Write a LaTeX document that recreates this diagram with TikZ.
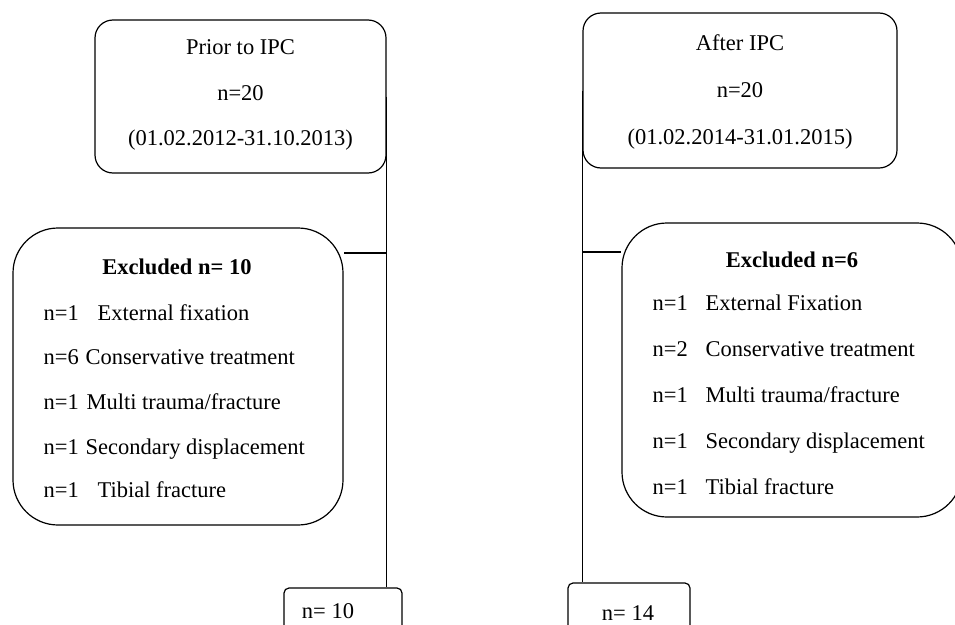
\documentclass[tikz,border=0pt]{standalone}
\usepackage{fontspec}
\setmainfont{Liberation Serif}
\begin{document}
\begin{tikzpicture}[x=1pt,y=-1pt,line width=1.2pt,
  box/.style={draw,rectangle,inner sep=0pt},
  lbl/.style={inner sep=0pt,anchor=base,font=\fontsize{22.5}{26}\selectfont},
  item/.style={lbl,anchor=base west},
  title/.style={lbl,font=\fontsize{22.5}{26}\selectfont\bfseries}]
\clip (0,0) rectangle (955,624);

% period boxes
\node[box,rounded corners=18pt,minimum width=291pt,minimum height=153pt] (tl) at (240.5,96.5) {};
\node[box,rounded corners=18pt,minimum width=314pt,minimum height=155pt] (tr) at (740,90.5) {};

% exclusion boxes
\node[box,rounded corners=45pt,minimum width=330pt,minimum height=297pt] (exL) at (178,376.5) {};
\node[box,rounded corners=45pt,minimum width=340pt,minimum height=294pt] (exR) at (792,370) {};

% final counts
\node[box,rounded corners=5pt,minimum width=118pt,minimum height=62pt] (nl) at (343,619) {};
\node[box,rounded corners=5pt,minimum width=122pt,minimum height=62pt] (nr) at (629,614) {};

% connectors
\draw (tl.east) -- (tl.east |- nl.north);
\draw (tr.west) -- (tr.west |- nr.north);
\coordinate (jl) at (386,253);
\draw (jl) -- (jl -| exL.east);
\coordinate (jr) at (583,252);
\draw (jr) -- (jr -| exR.west);

% period texts
\node[lbl] (tl1) at (240.5,54) {Prior to IPC};
\node[lbl] (tl2) at (240.5,100) {n=20};
\node[lbl] (tl3) at (240.5,145) {(01.02.2012-31.10.2013)};
\node[lbl] (tr1) at (740,50) {After IPC};
\node[lbl] (tr2) at (740,97) {n=20};
\node[lbl] (tr3) at (740,144) {(01.02.2014-31.01.2015)};

% left exclusions
\node[title] (exLt) at (177,274.5) {Excluded n= 10};
\node[item] (exL1) at (43,320) {\makebox[54pt][l]{n=1}External fixation};
\node[item] (exL2) at (43,364) {\makebox[42pt][l]{n=6}Conservative treatment};
\node[item] (exL3) at (43,409) {\makebox[43pt][l]{n=1}Multi trauma/fracture};
\node[item] (exL4) at (43,454) {\makebox[42pt][l]{n=1}Secondary displacement};
\node[item] (exL5) at (43,497) {\makebox[54pt][l]{n=1}Tibial fracture};

% right exclusions
\node[title] (exRt) at (792,267.5) {Excluded n=6};
\node[item] (exR1) at (652,310) {\makebox[53pt][l]{n=1}External Fixation};
\node[item] (exR2) at (652,356) {\makebox[53pt][l]{n=2}Conservative treatment};
\node[item] (exR3) at (652,402) {\makebox[53pt][l]{n=1}Multi trauma/fracture};
\node[item] (exR4) at (652,448) {\makebox[53pt][l]{n=1}Secondary displacement};
\node[item] (exR5) at (652,494) {\makebox[53pt][l]{n=1}Tibial fracture};

% count texts
\node[lbl] (nlt) at (328,618) {n= 10};
\node[lbl] (nrt) at (628,620) {n= 14};
\end{tikzpicture}
\end{document}
